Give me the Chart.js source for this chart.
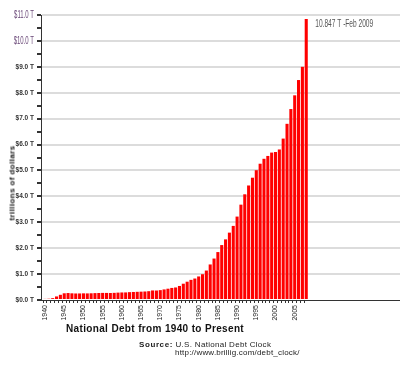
<!DOCTYPE html>
<html>
<head>
<meta charset="utf-8">
<script src="https://cdn.jsdelivr.net/npm/chart.js@4"></script>
<style>
  body { margin:0; background:#fff; }
  #wrap { position:relative; width:400px; height:369px; font-family:"Liberation Sans", Arial, sans-serif; }
  #c { position:absolute; left:0; top:0; }
  .ytitle { position:absolute; left:12px; top:183px; transform:translate(-50%,-50%) rotate(-90deg);
            font-size:8px; font-weight:bold; letter-spacing:0.4px; white-space:nowrap; color:#111; }
  .title { position:absolute; left:66px; top:323px; font-size:10px; font-weight:bold; letter-spacing:0.35px;
           white-space:nowrap; color:#111; }
  .src { position:absolute; left:139px; top:340px; font-size:8px; letter-spacing:0.3px; white-space:nowrap; color:#222; }
  .src b { letter-spacing:0.6px; }
  .url { position:absolute; left:175px; top:348px; font-size:8px; letter-spacing:0.2px; white-space:nowrap; color:#222; }
</style>
</head>
<body>
<div id="wrap">
  <canvas id="c" width="400" height="369"></canvas>
  <div class="ytitle">trillions of dollars</div>
  <div class="title">National Debt from 1940 to Present</div>
  <div class="src"><b>Source:</b> U.S. National Debt Clock</div>
  <div class="url">http://www.brillig.com/debt_clock/</div>
</div>
<script>
var years = [1940,1941,1942,1943,1944,1945,1946,1947,1948,1949,
             1950,1951,1952,1953,1954,1955,1956,1957,1958,1959,
             1960,1961,1962,1963,1964,1965,1966,1967,1968,1969,
             1970,1971,1972,1973,1974,1975,1976,1977,1978,1979,
             1980,1981,1982,1983,1984,1985,1986,1987,1988,1989,
             1990,1991,1992,1993,1994,1995,1996,1997,1998,1999,
             2000,2001,2002,2003,2004,2005,2006,2007,2008];
// trillions of dollars; last bar is Feb 2009
var debt = [0.043,0.049,0.072,0.137,0.201,0.259,0.269,0.258,0.252,0.253,
            0.257,0.255,0.259,0.266,0.271,0.274,0.273,0.271,0.276,0.285,
            0.291,0.293,0.303,0.310,0.316,0.322,0.328,0.340,0.369,0.366,
            0.381,0.408,0.436,0.466,0.484,0.542,0.629,0.706,0.777,0.829,
            0.909,0.995,1.137,1.372,1.60,1.85,2.12,2.34,2.60,2.86,
            3.22,3.68,4.08,4.42,4.72,5.01,5.26,5.45,5.56,5.69,
            5.71,5.81,6.23,6.80,7.37,7.90,8.49,9.00,10.847];
var yearTicks = [1940,1945,1950,1955,1960,1965,1970,1975,1980,1985,1990,1995,2000,2005];
var lastNote = "10.847 T -Feb 2009";

function money(v) { return "$" + v.toFixed(1) + " T"; }

var points = [];
for (i = 0; i < years.length; i++) {
    points.push({x: years[i], y: debt[i]});
}

// the two top tick labels are drawn in a taller, narrow face
var notePlugin = {
    id: "note",
    afterDatasetsDraw: function(chart) {
        var bars = chart.getDatasetMeta(0).data;
        var last = bars[bars.length - 1];
        var ctx = chart.ctx;
        ctx.save();
        ctx.translate(last.x + 9, last.y + 5);
        ctx.scale(0.66, 1);
        ctx.font = "10px 'Liberation Sans', sans-serif";
        ctx.fillStyle = "#555";
        ctx.textBaseline = "middle";
        ctx.fillText(lastNote, 0, 0);
        ctx.restore();

        var ys = chart.scales.y;
        ys.ticks.forEach(function(t) {
            if (t.value < 10 || t.value % 1 !== 0) return;
            var py = ys.getPixelForValue(t.value);
            ctx.save();
            ctx.translate(ys.right - 7, py);
            ctx.scale(0.6, 1);
            ctx.font = "10px 'Liberation Sans', sans-serif";
            ctx.fillStyle = "#6a4878";
            ctx.textAlign = "right";
            ctx.textBaseline = "middle";
            ctx.fillText(money(t.value), 0, 0);
            ctx.restore();
        });
    }
};

var ctx = document.getElementById("c").getContext("2d");
Chart.defaults.font.family = "'Liberation Sans', Arial, sans-serif";

var chart = new Chart(ctx, {
    type: "bar",
    data: {
        datasets: [{
            data: points,
            backgroundColor: "#ff0000",
            barPercentage: 0.8,
            categoryPercentage: 1
        }]
    },
    options: {
        responsive: false,
        animation: false,
        layout: {padding: {left: 0, right: 0, top: 15, bottom: 47}},
        plugins: {legend: {display: false}, tooltip: {enabled: false}},
        scales: {
            x: {
                type: "linear",
                min: 1939.46,
                max: 2031.9,
                afterFit: function(s) { s.height = 22; s.paddingRight = 0; },
                border: {color: "#333", width: 1},
                grid: {
                    drawOnChartArea: false,
                    tickLength: 3,
                    tickColor: function(c) { return c.tick && c.tick.value <= 2008.6 ? "#333" : "rgba(0,0,0,0)"; }
                },
                ticks: {
                    stepSize: 1,
                    includeBounds: false,
                    autoSkip: false,
                    maxRotation: 90,
                    minRotation: 90,
                    padding: 2,
                    color: "#222",
                    font: {size: 7},
                    callback: function(v) { return yearTicks.indexOf(Math.round(v)) >= 0 && Math.abs(v - Math.round(v)) < 0.01 ? String(Math.round(v)) : ""; }
                }
            },
            y: {
                min: 0,
                max: 11,
                afterFit: function(s) { s.width = 41; },
                border: {color: "#333", width: 1},
                grid: {
                    lineWidth: 2,
                    color: function(c) { return c.tick && c.tick.value % 1 === 0 && c.tick.value > 0 ? "#dcdcdc" : "rgba(0,0,0,0)"; },
                    tickColor: "#333",
                    tickLength: 4
                },
                ticks: {
                    stepSize: 0.5,
                    padding: 3,
                    color: "#333",
                    font: {size: 6.5, weight: "bold"},
                    callback: function(v) { return v % 1 === 0 && v < 10 ? money(v) : ""; }
                }
            }
        }
    },
    plugins: [notePlugin]
});
</script>
</body>
</html>
